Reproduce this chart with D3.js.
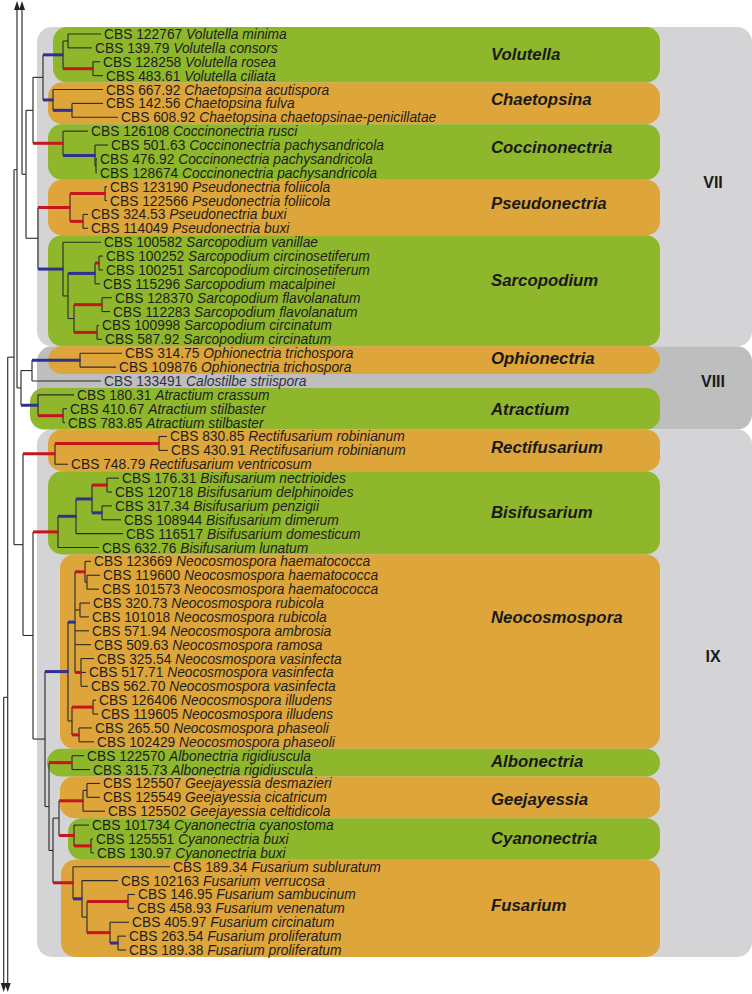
<!DOCTYPE html>
<html><head><meta charset="utf-8">
<script src="https://cdn.jsdelivr.net/npm/d3@7/dist/d3.min.js"></script>
<style>body{margin:0;background:#fff}svg{display:block}</style>
</head><body>
<svg id="chart" width="752" height="994"></svg>
<script>
// ---------- DATA ----------
const strains = ["CBS 122767","CBS 139.79","CBS 128258","CBS 483.61","CBS 667.92","CBS 142.56","CBS 608.92",
"CBS 126108","CBS 501.63","CBS 476.92","CBS 128674","CBS 123190","CBS 122566","CBS 324.53","CBS 114049",
"CBS 100582","CBS 100252","CBS 100251","CBS 115296","CBS 128370","CBS 112283","CBS 100998","CBS 587.92",
"CBS 314.75","CBS 109876","CBS 133491","CBS 180.31","CBS 410.67","CBS 783.85",
"CBS 830.85","CBS 430.91","CBS 748.79","CBS 176.31","CBS 120718","CBS 317.34","CBS 108944","CBS 116517","CBS 632.76",
"CBS 123669","CBS 119600","CBS 101573","CBS 320.73","CBS 101018","CBS 571.94","CBS 509.63","CBS 325.54","CBS 517.71",
"CBS 562.70","CBS 126406","CBS 119605","CBS 265.50","CBS 102429","CBS 122570","CBS 315.73",
"CBS 125507","CBS 125549","CBS 125502","CBS 101734","CBS 125551","CBS 130.97",
"CBS 189.34","CBS 102163","CBS 146.95","CBS 458.93","CBS 405.97","CBS 263.54","CBS 189.38"];
const species = ["Volutella minima","Volutella consors","Volutella rosea","Volutella ciliata","Chaetopsina acutispora","Chaetopsina fulva","Chaetopsina chaetopsinae-penicillatae",
"Coccinonectria rusci","Coccinonectria pachysandricola","Coccinonectria pachysandricola","Coccinonectria pachysandricola","Pseudonectria foliicola","Pseudonectria foliicola","Pseudonectria buxi","Pseudonectria buxi",
"Sarcopodium vanillae","Sarcopodium circinosetiferum","Sarcopodium circinosetiferum","Sarcopodium macalpinei","Sarcopodium flavolanatum","Sarcopodium flavolanatum","Sarcopodium circinatum","Sarcopodium circinatum",
"Ophionectria trichospora","Ophionectria trichospora","Calostilbe striispora","Atractium crassum","Atractium stilbaster","Atractium stilbaster",
"Rectifusarium robinianum","Rectifusarium robinianum","Rectifusarium ventricosum","Bisifusarium nectrioides","Bisifusarium delphinoides","Bisifusarium penzigii","Bisifusarium dimerum","Bisifusarium domesticum","Bisifusarium lunatum",
"Neocosmospora haematococca","Neocosmospora haematococca","Neocosmospora haematococca","Neocosmospora rubicola","Neocosmospora rubicola","Neocosmospora ambrosia","Neocosmospora ramosa","Neocosmospora vasinfecta","Neocosmospora vasinfecta",
"Neocosmospora vasinfecta","Neocosmospora illudens","Neocosmospora illudens","Neocosmospora phaseoli","Neocosmospora phaseoli","Albonectria rigidiuscula","Albonectria rigidiuscula",
"Geejayessia desmazieri","Geejayessia cicatricum","Geejayessia celtidicola","Cyanonectria cyanostoma","Cyanonectria buxi","Cyanonectria buxi",
"Fusarium subluratum","Fusarium verrucosa","Fusarium sambucinum","Fusarium venenatum","Fusarium circinatum","Fusarium proliferatum","Fusarium proliferatum"];
const leafParent = ["volA","volA","volB","volB","cha","chaB","chaB",
"coc","cocB","cocC","cocC","pseA","pseA","pseB","pseB",
"sar","sarD","sarD","sarC","sarF","sarF","sarG","sarG",
"oph","oph","n32","atr","atrB","atrB",
"recB","recB","rec","bisC","bisC","bisD","bisD","bisA","bis",
"neoH","neoH2","neoH2","neoR","neoR","neoA","neoA","neoV","neoV",
"neoV","neoI","neoI","neoP","neoP","alb","alb",
"geeA","geeA","gee","cya","cyaB","cyaB",
"fus","fusA","fusC","fusC","fusD","fusE","fusE"];
// cumulative distance of each tip from the left edge (tree units)
const leafDepth = [101,92,100,103,103,103,118,
88,108,97,97,107,107,88,88,
101,103,103,100,112,110,99,102,
122,116,101,74,67,65,
167,168,68,119,112,112,121,123,99,
91,100,99,90,89,89,91,94,86,
88,96,98,92,94,84,90,
100,100,105,89,93,94,
170,118,135,134,129,126,126];
// internal nodes: id, parent, cumulative depth, branch colour (r = red, b = blue)
const internalNodes = [
["r3","",3.7,""],["n8","r3",7.7,""],["n14","n8",14,""],["n17","n14",17,""],["n22","n17",22,""],
["n26","n22",26,""],["n33a","n26",33,""],["n43","n33a",43,""],
["vol","n43",63,"b"],["volA","vol",68,""],["volB","vol",93,"r"],
["cha","n43",53,"b"],["chaB","cha",72,"b"],
["coc","n33a",63,"r"],["cocB","coc",95,"b"],["cocC","cocB",96,""],
["n38","n26",38,""],["pse","n38",70,"r"],["pseA","pse",105,"r"],["pseB","pse",83,"r"],
["sar","n38",63,"b"],["sarB","sar",68,""],["sarC","sarB",95,"b"],["sarD","sarC",99,"r"],
["sarE","sarB",74,""],["sarF","sarE",102,"r"],["sarG","sarE",97,"r"],
["n21","n17",21,""],["n32","n21",32,""],["oph","n32",80,"b"],["atr","n21",38,"b"],["atrB","atr",63,"r"],
["n23","n14",23,""],["rec","n23",55,"r"],["recB","rec",159,"r"],
["n33b","n23",33,""],["bis","n33b",58,"r"],["bisA","bis",76,"b"],["bisB","bisA",92,"b"],
["bisC","bisB",107,"r"],["bisD","bisB",102,"b"],
["n45","n33b",45,""],["neo","n45",68,"b"],["neoA","neo",75,"b"],["neoH","neoA",85,"r"],["neoH2","neoH",87,""],
["neoR","neoA",80,""],["neoV","neoA",81,"r"],["neoB","neo",72,""],["neoI","neoB",93,"r"],["neoP","neoB",79,"r"],
["n49","n45",49,""],["alb","n49",72,"r"],["n53","n49",53,""],["n59","n53",59,""],
["gee","n59",83,"r"],["geeA","gee",87,""],["cya","n59",74,"r"],["cyaB","cya",91,"r"],
["fus","n53",73,"r"],["fusA","fus",82,"b"],["fusB","fusA",87,""],["fusC","fusB",128,"r"],
["fusD","fusB",110,"r"],["fusE","fusD",118,"b"]
];
// branches continuing beyond the figure (id, parent, depth, row position)
const offChart = [["pUp","n22",22,-22],["pDown2","n8",7.7,72.3],["pDown1","r3",3.7,100]];
// clades
const cladeNames = ["Volutella","Chaetopsina","Coccinonectria","Pseudonectria","Sarcopodium","Ophionectria","Atractium",
"Rectifusarium","Bisifusarium","Neocosmospora","Albonectria","Geejayessia","Cyanonectria","Fusarium"];
const cladeFirst = [0,4,7,11,15,23,26,29,32,38,52,54,57,60];
const cladeLast  = [3,6,10,14,22,24,28,31,37,51,53,56,59,66];
const cladeColor = ["g","o","g","o","g","o","g","o","g","o","g","o","g","o"];
const cladeLabelRow = [1.44,4.68,8.14,12.18,17.72,23.34,27.0,29.76,34.44,42.0,52.38,55.1,57.93,62.75];
// groups
const groupNames = ["VII","VIII","IX"];
const groupFirst = [0,23,29];
const groupLast = [22,28,66];
const groupLabelRow = [10.66,25.0,44.8];

// ---------- LAYOUT / STYLE ----------
const W = 752, H = 994;
const cladeBoxLeft = [53,48,48,48,48,48,30,48,48,60,47,60,68,61];
const fills = {g:"#8fb72b", o:"#dea53a"};
const groupFill = ["#d4d4d6","#bebebe","#d4d4d6"];
const branchCol = {r:"#c5161d", b:"#2e3192", "":"#2b2b2b"};

const svg = d3.select("#chart");
const rowScale = d3.scaleLinear().domain([0,66]).range([34,950]);
const xScale = d3.scaleLinear().domain([0,170]).range([0,170]);
const half = (rowScale(1)-rowScale(0))/2;

svg.append("g").selectAll("rect").data(groupNames).join("rect")
  .attr("x",37).attr("width",W-37)
  .attr("y",(d,i)=>rowScale(groupFirst[i])-half)
  .attr("height",(d,i)=>rowScale(groupLast[i])-rowScale(groupFirst[i])+2*half)
  .attr("rx",15).attr("fill",(d,i)=>groupFill[i]);

svg.append("g").selectAll("rect").data(cladeNames).join("rect")
  .attr("x",(d,i)=>cladeBoxLeft[i]).attr("width",(d,i)=>660-cladeBoxLeft[i])
  .attr("y",(d,i)=>rowScale(cladeFirst[i])-half)
  .attr("height",(d,i)=>rowScale(cladeLast[i])-rowScale(cladeFirst[i])+2*half)
  .attr("rx",14).attr("fill",(d,i)=>fills[cladeColor[i]]);

const rows = [];
internalNodes.forEach(([id,parent,depth,col])=>rows.push({id,parent:parent||null,depth,col}));
strains.forEach((s,i)=>rows.push({id:"L"+i,parent:leafParent[i],depth:leafDepth[i],col:"",row:i,leaf:true}));
offChart.forEach(([id,parent,depth,row])=>rows.push({id,parent,depth,col:"",row,phantom:true}));
const root = d3.stratify().id(d=>d.id).parentId(d=>d.parent)(rows);
root.eachAfter(n=>{
  n.px = xScale(n.data.depth);
  if(!n.children){ n.py = rowScale(n.data.row); }
  else { const ys=n.children.map(c=>c.py); n.minY=d3.min(ys); n.maxY=d3.max(ys); n.py=(n.minY+n.maxY)/2; }
});
const yTop = 5, yBot = 988;
const gTree = svg.append("g").attr("fill","none");
const clampY = y=>Math.max(yTop,Math.min(yBot,y));
const internals = root.descendants().filter(n=>n.children);
gTree.selectAll("line.v").data(internals).join("line").attr("class","v")
  .attr("x1",d=>d.px).attr("x2",d=>d.px)
  .attr("y1",d=>clampY(d.minY)).attr("y2",d=>clampY(d.maxY))
  .attr("stroke","#333").attr("stroke-width",1.2);
const withParent = root.descendants().filter(n=>n.parent && n.py>0 && n.py<H && n.px>n.parent.px);
const blackH = withParent.filter(n=>!n.data.col), colH = withParent.filter(n=>n.data.col);
gTree.selectAll("line.h").data(blackH).join("line").attr("class","h")
  .attr("x1",d=>d.parent.px).attr("x2",d=>d.px).attr("y1",d=>d.py).attr("y2",d=>d.py)
  .attr("stroke","#2b2b2b").attr("stroke-width",1.1);
gTree.selectAll("line.c").data(colH).join("line").attr("class","c")
  .attr("x1",d=>d.parent.px).attr("x2",d=>d.px+0.6).attr("y1",d=>d.py).attr("y2",d=>d.py)
  .attr("stroke",d=>branchCol[d.data.col]).attr("stroke-width",3);
const arrowsUp = internals.filter(n=>n.minY<yTop), arrowsDown = internals.filter(n=>n.maxY>yBot);
svg.append("g").selectAll("path").data(arrowsUp).join("path")
  .attr("d",d=>`M${d.px},${yTop-4}L${d.px-3},${yTop+5}L${d.px+3},${yTop+5}Z`).attr("fill","#222");
svg.append("g").selectAll("path").data(arrowsDown).join("path")
  .attr("d",d=>`M${d.px},${yBot+4}L${d.px-3},${yBot-5}L${d.px+3},${yBot-5}Z`).attr("fill","#222");

const leaves = root.leaves().filter(n=>n.data.leaf);
const lt = svg.append("g").attr("font-family","'Liberation Sans', Arial, sans-serif").attr("font-size",13.8)
  .selectAll("text").data(leaves).join("text")
  .attr("x",d=>d.px+3).attr("y",d=>d.py+5).attr("fill",d=>d.data.row===25?"#30304a":"#1e1e1e");
lt.append("tspan").text(d=>strains[d.data.row]+" ");
lt.append("tspan").attr("font-style","italic").text(d=>species[d.data.row]);

svg.append("g").attr("font-family","'Liberation Sans', Arial, sans-serif").attr("font-size",16.8)
  .attr("font-weight","bold").attr("font-style","italic").attr("fill","#1a1a1a")
  .selectAll("text").data(cladeNames).join("text")
  .attr("x",491).attr("y",(d,i)=>rowScale(cladeLabelRow[i])+6).text(d=>d);
svg.append("g").attr("font-family","'Liberation Sans', Arial, sans-serif").attr("font-size",16)
  .attr("font-weight","bold").attr("fill","#1a1a1a").attr("text-anchor","middle")
  .selectAll("text").data(groupNames).join("text")
  .attr("x",713).attr("y",(d,i)=>rowScale(groupLabelRow[i])+6).text(d=>d);
</script>
</body></html>
